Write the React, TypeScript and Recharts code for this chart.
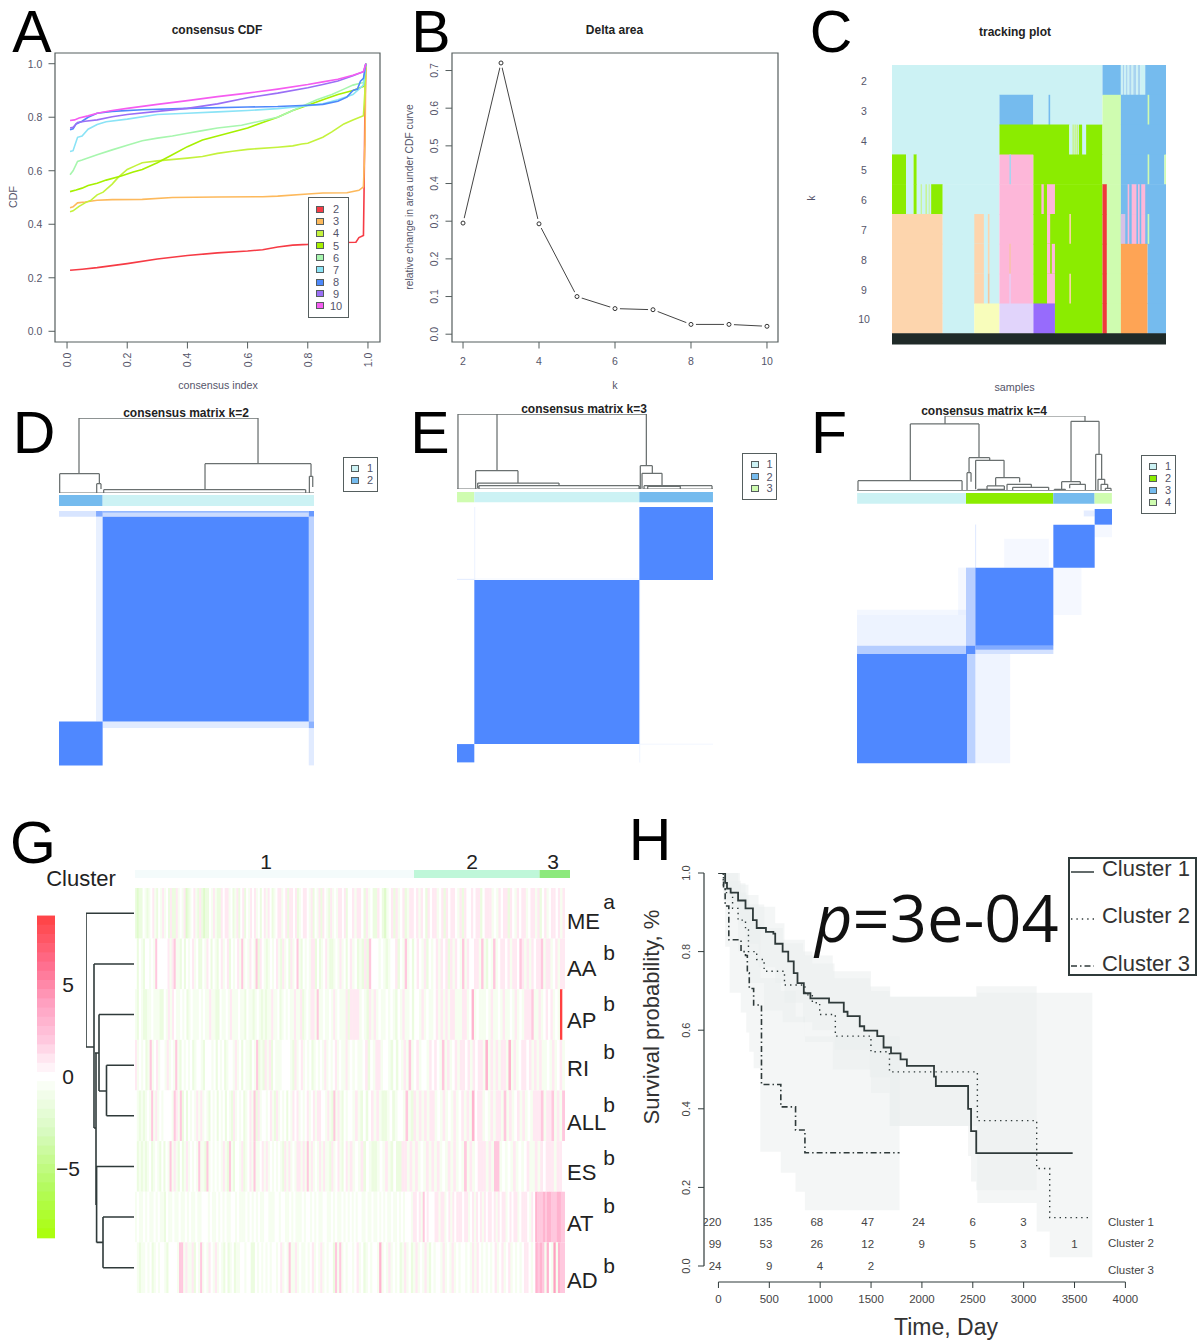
import React from "react";
import { ComposedChart, Line, Area, Scatter, XAxis, YAxis, ReferenceArea, ReferenceLine } from "recharts";

const FONT = "'Liberation Sans', Arial, sans-serif";
const TXT = "#55556a";
const DARK = "#2f3a3a";

// ---------- A: consensus CDF ----------
const cdf2 = [[.01,.228],[.05,.232],[.1,.238],[.2,.253],[.3,.27],[.4,.283],[.5,.293],[.6,.3],[.65,.305],[.7,.315],[.75,.322],[.8,.325],[.85,.33],[.9,.332],[.96,.333],[.97,.35],[.985,.358],[.987,.52],[.99,.84],[.993,1]];
const cdf3 = [[.01,.462],[.02,.465],[.035,.48],[.06,.483],[.1,.49],[.15,.492],[.25,.493],[.35,.5],[.5,.502],[.65,.503],[.7,.505],[.8,.513],[.85,.517],[.93,.518],[.97,.527],[.985,.54],[.99,.7],[.993,1]];
const cdf4 = [[.01,.447],[.02,.45],[.04,.467],[.06,.48],[.08,.49],[.1,.51],[.12,.52],[.15,.55],[.17,.575],[.2,.605],[.23,.62],[.25,.63],[.3,.637],[.4,.647],[.45,.653],[.5,.665],[.55,.673],[.6,.68],[.7,.688],[.75,.693],[.78,.7],[.8,.703],[.85,.725],[.88,.745],[.9,.76],[.92,.775],[.95,.79],[.985,.806],[.99,.9],[.993,1]];
const cdf5 = [[.01,.522],[.03,.528],[.05,.535],[.07,.545],[.1,.553],[.13,.565],[.18,.58],[.22,.595],[.25,.605],[.3,.63],[.35,.66],[.4,.69],[.45,.715],[.5,.73],[.55,.745],[.6,.76],[.65,.78],[.7,.8],[.75,.825],[.8,.845],[.85,.865],[.9,.885],[.95,.9],[.985,.915],[.993,1]];
const cdf6 = [[.01,.585],[.02,.6],[.035,.635],[.05,.64],[.1,.66],[.15,.678],[.2,.695],[.25,.712],[.3,.722],[.35,.73],[.4,.74],[.45,.75],[.5,.76],[.58,.77],[.62,.78],[.7,.8],[.75,.825],[.8,.85],[.83,.865],[.88,.885],[.92,.905],[.95,.92],[.985,.93],[.993,1]];
const cdf7 = [[.01,.672],[.02,.675],[.035,.725],[.05,.73],[.07,.755],[.1,.773],[.13,.783],[.2,.793],[.3,.81],[.4,.815],[.5,.82],[.6,.825],[.7,.832],[.8,.843],[.85,.85],[.9,.865],[.95,.885],[.985,.92],[.993,1]];
const cdf8 = [[.01,.753],[.02,.757],[.03,.775],[.05,.785],[.07,.8],[.1,.815],[.15,.822],[.25,.828],[.4,.833],[.6,.838],[.7,.84],[.8,.845],[.85,.848],[.9,.86],[.93,.875],[.95,.9],[.965,.905],[.975,.935],[.985,.945],[.993,1]];
const cdf9 = [[.01,.76],[.02,.762],[.035,.78],[.06,.785],[.1,.79],[.15,.802],[.2,.81],[.3,.822],[.4,.833],[.5,.85],[.6,.873],[.7,.89],[.8,.91],[.85,.922],[.9,.935],[.95,.955],[.985,.97],[.993,1]];
const cdf10 = [[.01,.788],[.025,.79],[.04,.797],[.07,.805],[.1,.815],[.15,.825],[.2,.833],[.3,.848],[.4,.862],[.5,.877],[.6,.89],[.7,.905],[.8,.922],[.85,.932],[.9,.942],[.95,.957],[.985,.97],[.993,1]];
const cdfAll = [cdf2, cdf3, cdf4, cdf5, cdf6, cdf7, cdf8, cdf9, cdf10];
const kLabels = ["2","3","4","5","6","7","8","9","10"];
const kColors = ["#f63b45","#fdb95c","#c4f23c","#a6f000","#a7f6ae","#8ae3f6","#4e88fb","#9a6ff6","#f55cf0"];
const cdfTicks = [0,.2,.4,.6,.8,1];

// ---------- B: delta area ----------
const deltaK = [2,3,4,5,6,7,8,9,10];
const deltaV = [.295,.72,.293,.1,.068,.065,.026,.026,.021];
const deltaYTicks = [0,.1,.2,.3,.4,.5,.6,.7];
const deltaXTicks = [2,4,6,8,10];

// ---------- C: tracking plot ----------
const trackColors: Record<string,string> = { c:"#ccf2f4", b:"#75bbee", l:"#cffcb0", g:"#8bec00", p:"#fdb7d9", r:"#ef3a3a", e:"#fdd5ad", v:"#e1d4fb", u:"#976bfc", y:"#f8fdbb", o:"#fea455", k:"#1f2a28", m:"#f7c59b", a:"#d6c0e6", s:"#a8d4f0", h:"#c6f57a" };
const trackK = [2,3,4,5,6,7,8,9,10];
const trackK2: any[] = [[0,263.5,"c"],[263.5,286.5,"b"],[286.5,289,"c"],[289,291,"s"],[291,293,"c"],[293,295,"s"],[295,297,"c"],[297,300,"s"],[300,302,"c"],[302,306,"s"],[306,308,"c"],[308,311,"s"],[311,317,"c"],[317,343,"b"]];
const trackK3: any[] = [[0,134.5,"c"],[134.5,177,"b"],[177,263.5,"c"],[196,198,"b"],[263.5,286.5,"l"],[286.5,343,"b"],[320,322,"l"]];
const trackK4: any[] = [[0,134.5,"c"],[134.5,222,"g"],[222,243,"c"],[226,227.5,"h"],[228.5,230,"h"],[231,233,"h"],[234,238,"g"],[243,263.5,"g"],[263.5,286.5,"l"],[286.5,343,"b"]];
const trackK5: any[] = [[0,17.5,"g"],[17.5,27,"c"],[27,31,"g"],[31,134.5,"c"],[134.5,177,"p"],[147,149,"s"],[177,263.5,"g"],[263.5,286.5,"l"],[286.5,341,"b"],[320,322,"l"],[341,343,"l"]];
const trackK6: any[] = [[0,17.5,"g"],[17.5,27,"c"],[27,31,"g"],[31,49,"c"],[36,37.2,"h"],[42,43.5,"h"],[46,47,"h"],[49,63.5,"g"],[63.5,134.5,"c"],[134.5,177,"p"],[177,263.5,"g"],[187,190,"p"],[194,204,"p"],[263.5,269,"r"],[269,286.5,"l"],[286.5,343,"b"],[295,297,"p"],[300,306,"p"],[308,310,"p"],[312,317,"p"]];
const trackK7: any[] = [[0,63.5,"e"],[63.5,134.5,"c"],[103,115,"e"],[120,122,"e"],[134.5,177,"p"],[177,263.5,"g"],[194,198,"p"],[222,224,"e"],[263.5,269,"r"],[269,286.5,"l"],[286.5,343,"b"],[286.5,292,"a"],[295,297,"p"],[300,306,"p"],[308,310,"p"],[312,317,"p"],[320,322,"l"]];
const trackK8: any[] = [[0,63.5,"e"],[63.5,134.5,"c"],[103,115,"e"],[120,122,"e"],[134.5,177,"p"],[147,148.5,"m"],[177,263.5,"g"],[194,198,"p"],[200,204,"p"],[263.5,269,"r"],[269,286.5,"l"],[286.5,320,"o"],[320,343,"b"]];
const trackK9: any[] = [[0,63.5,"e"],[63.5,134.5,"c"],[103,115,"e"],[120,122,"m"],[134.5,177,"p"],[147,148.5,"v"],[177,263.5,"g"],[194,204,"p"],[222,224,"e"],[263.5,269,"r"],[269,286.5,"l"],[286.5,320,"o"],[320,343,"b"]];
const trackK10: any[] = [[0,63.5,"e"],[63.5,103,"c"],[103,134.5,"y"],[134.5,177,"v"],[177,204,"u"],[204,263.5,"g"],[263.5,269,"r"],[269,286.5,"l"],[286.5,320,"o"],[320,343,"b"]];
const trackRows = [trackK2, trackK3, trackK4, trackK5, trackK6, trackK7, trackK8, trackK9, trackK10];

// ---------- D, E, F: consensus matrices (sample index units) ----------
const MATRIX = "#4f88ff";
const dTree = [[26.9,267.7,1,.258,.391],[.9,54.3,.258,0,.124],[50.7,56.5,.124,0,.053],[196.4,339,.391,.044,.222],[60.1,331.8,.044,0,0],[336.8,341.3,.222,0,.08]];
const eTree = [[1.3,253.7,1,0,.311],[53.6,53.6,1,.244,.244],[25,81.7,.244,0,.08],[27.7,136.7,.08,.013,.044],[29.5,243.9,.044,0,0],[245.6,261.7,.311,0,.209],[247.9,274.7,.209,.013,.044],[250.6,341.7,.044,0,0],[255.5,299.2,.036,0,0]];
const fTree = [[118.4,306.7,1,.893,.929],[71.7,164.1,.893,.134,.442],[1.3,141.3,.134,0,0],[150.7,178.5,.442,.241,.406],[148,153.4,.241,0,.121],[159.6,197.8,.406,.018,.174],[162.3,197.3,.018,0,0],[174.9,198.2,.063,0,0],[186.5,218.8,.174,.063,.112],[201.8,234.5,.085,0,.045],[209.4,257.8,.045,0,0],[287.9,325.6,.929,.121,.487],[275.3,300.4,.121,0,.085],[286.1,307.2,.085,.031,0],[265.5,280.3,.018,0,0],[321.1,329.1,.487,0,.152],[324.2,333.2,.152,0,.085],[328.3,337.2,.085,0,.031],[334.1,341.7,.031,0,0]];
const dAnno: any[] = [[0,58.7,"b"],[58.7,343,"c"]];
const eAnno: any[] = [[0,23.2,"l"],[23.2,244.3,"c"],[244.3,343,"b"]];
const fAnno: any[] = [[0,146.6,"c"],[146.6,264.1,"g"],[264.1,319.7,"b"],[319.7,343,"l"]];
const dBlocks = [[58.7,336,7.6,283.4,1],[0,58.7,283.4,342.6,1],[49.8,58.7,7.6,283.4,.13],[0,49.8,0,7.6,.22],[49.8,58.7,0,7.6,.7],[58.7,336,0,2.5,.6],[58.7,336,2.5,7.6,.3],[336,343,0,7.6,.85],[336,343,7.6,283.4,.38],[58.7,336,283.4,292.4,.17],[336,343,283.4,292.4,.65],[336,343,292.4,342.6,.17]];
const eBlocks = [[244.3,343,0,98,1],[23.2,244.3,98,318.4,1],[0,23.2,318.4,343,1],[23.2,24.4,0,98,.12],[24.4,244.3,96,97.5,.07],[0,23.2,96.5,98,.15],[244.3,245.5,98,343,.1],[245.5,343,318,319,.1]];
const fBlocks = [[319.7,343,0,21.1,1],[264.1,319.7,21.1,79.1,1],[159.2,264.1,79.1,184.3,1],[146.6,159.2,79.1,184.3,.4],[146.6,159.2,184.3,195.6,.95],[0,148,195.6,343,1],[148,159.2,195.6,343,.38],[159.2,206,195.6,343,.09],[0,146.6,184.3,195.6,.42],[159.2,264.1,184.3,190,.7],[159.2,264.1,190,195.6,.25],[0,146.6,143,184.3,.1],[136,146.6,79.1,143,.06],[0,146.6,136,143,.07],[264.1,302,79.1,143,.06],[198,258,40,79.1,.06],[159.2,160.2,21,79.1,.25],[305,319.7,2,10,.15],[320,343,21.1,38,.06]];

// ---------- G: heatmap ----------
const heatLabels = ["ME","AA","AP","RI","ALL","ES","AT","AD"];
const heatSig = ["a","b","b","b","b","b","b","b"];
const levelValue: Record<string,number> = { g:-2.5, h:-1.5, i:-.7, "0":0, "1":.9, "2":2, "3":3, "4":4, "9":8.8 };
const heatLeft = [
"hghh0ihi01ih0i1i0h1hh1i0i1ghi01ih1hghh0i1ihh1011i0hi1h01h0i101i0h01i10hi011i01h1101hi0110i1h0i1h10ih1i0i1101h0",
"0h0ih00i0i2000001i12iih0h0i01i0hh0i10h0ih01i01h0i01i2i0i10i2h10ihi0i01ih1i0h1i02ih0i0i11h0hi01ihhi0i1i0h0",
"ih0ihhii0iiihh0i1i10ii0i0hi0iii0i0ii1iihh0ii0i1iii0iih0iihi0ihihii1ii0hi0i0ii1ii1hi0i11i2ii0ii0i1i0iii1h",
"1i0i0hi2i01i00i1i0i2ih0i0i0hi00ih000i0h0i0hi00i1i0h0iih0i2hih1i1h0iii0000ih1i01i0i0hi0i0i1i0i01i0ii1i",
"0ihihi0i2i1i0i0000i21i2h0h0i0i1i1i0ih0i0h0i0h0ih1i0i0hi01i2h1i00i01ih1i0i0h0i101i0i01i01i1100i1ih2i1ih0i0",
"0hihihi0hi0ih0h0i2i1ih0hi1i0i0i2iih2i0i0i0i1ih2ih00i1hi01i2ii01i1i0i0i0ih1i1i0i11i1i2i1i0i1i1iih1i01ih01i",
"i0ii0i0ii0i0iih0ii0ii0ii0i0ii0ii000i0ii0i0i0ii00i0iii0i0i0i0ii00iii00i00ii0i0iii0i00i0i0ii00ii0i0ii0i0i",
"0ihii0i0hi0i00ih0000i22i1ii1h0i2i0i10i1i0ih0hi0hii00i00hh0i0i0i0i00i01i0i2ii1i0ii0i01i0i1i0i00h2i2i0i0",
];
const heatRight = [
"01i110h1i0hh10hgi01h1i01hi1101i10h1011i01h10110i1h1001011h0111i0i1011h10i1011i011i1h01i01101i1",
"1i0hih1h2000i0ihi001h0i2i0h010i1h0i01i101h1i10i2i10011i2ih0i2i01101i11021i1i10112i11i01i11",
"1111i0ih1i1i0ii0i0ih0i1ii0h00i1i0ii01i1i1i11iii11i03i0iii0i1ii0i1ii0i1i0i1112ii1i0101i0i90",
"0i0ii01h0i11i00ih0h0i1i2i01i00i1010i2i1i01i1101i1011i3i1i1i11i3i1i01101i1i1ii0i1i01i",
"0i1ih0h01i1ihhi0hi00i2ih1i1i1i11i0i1i0i1i01i1i3011i0i1i11i2i1i01i1i0i1112i112i1i2",
"1i0i1h0ihhi0i1ih0hh11i1i1i0i1i1i1i0i1i1i0i2i1i0111i1i22i0i0i1i0i01ii1i10111i110",
"0i0i00ii0ii0ii0i0i0ii0ii0i0i000i1101i20100011i11i01i10111011i01i101i101101i1011i01011i01110i10322232332223322",
"0i01i0hi0i00i3i0i1i0i0hi1i0hi1i0i1ih0i00i1i0i1i0i00i0i1i10i0i0i01i01i01i0i0i0110i03232i30i4i322",
];
const colorStops: [number,number[]][] = [[-9,[169,255,0]],[-6,[180,250,96]],[-3,[216,250,192]],[-1,[242,253,234]],[0,[255,255,255]],[1,[255,230,240]],[2,[255,200,222]],[4,[255,160,192]],[6,[255,112,144]],[8.8,[255,64,64]]];
const colorBarLevels = [8.5,8,7.5,7,6.5,6,5.5,5,4.5,4,3.5,3,2.5,2,1.5,1,.5,0,-.5,-1,-1.5,-2,-2.5,-3,-3.5,-4,-4.5,-5,-5.5,-6,-6.5,-7,-7.5,-8,-8.5];
const clusterSizes = [220,99,24];
const clusterFill = ["#f4fbfb","#bff7d9","#8ce97c"];
const heatTreeSegs = [[0,.5,48,.5],[48,.5,48,3.14],[48,3.14,40,3.14],[0,1.5,40,1.5],[40,1.5,40,4.74],[40,4.74,38,4.74],[39,3.26,35,3.26],[35,2.5,35,4.01],[0,2.5,35,2.5],[35,4.01,27.5,4.01],[27.5,3.5,27.5,4.5],[0,3.5,27.5,3.5],[0,4.5,27.5,4.5],[38,3.26,38,6.26],[38,6.26,37.4,6.26],[37.4,5.5,37.4,7],[0,5.5,37.4,5.5],[37.4,7,31,7],[31,6.5,31,7.5],[0,6.5,31,6.5],[0,7.5,31,7.5]];

// ---------- H: survival ----------
const km1 = [[0,1],[66,.975],[84,.96],[120,.95],[193,.93],[266,.91],[339,.88],[376,.86],[430,.86],[467,.85],[540,.846],[558,.82],[631,.80],[686,.775],[740,.745],[777,.72],[839,.694],[904,.681],[1087,.67],[1232,.647],[1269,.636],[1389,.61],[1433,.599],[1561,.585],[1623,.556],[1696,.541],[1790,.526],[1852,.509],[2119,.482],[2137,.458],[2454,.40],[2483,.343],[2534,.287],[3482,.287]];
const km2 = [[0,1],[47,.97],[66,.95],[139,.91],[193,.88],[266,.855],[295,.80],[376,.78],[449,.75],[649,.715],[850,.69],[923,.67],[995,.64],[1149,.585],[1499,.545],[1681,.494],[2545,.37],[3128,.248],[3256,.123],[3665,.123]];
const km3 = [[0,1],[50,.96],[66,.916],[102,.83],[222,.80],[266,.79],[284,.746],[303,.706],[346,.664],[423,.462],[613,.405],[758,.346],[850,.288],[1780,.288]];
const band1 = [[0,1,1],[47,.96,1],[120,.91,1],[211,.87,.974],[266,.82,.944],[394,.76,.914],[558,.72,.872],[649,.67,.821],[831,.62,.80],[923,.60,.77],[1141,.55,.732],[1488,.48,.711],[1688,.356,.685],[2454,.28,.685],[2483,.215,.685],[2534,.193,.712],[3128,.193,.712]];
const band2 = [[0,1,1],[47,.93,1],[193,.80,.97],[295,.72,.92],[449,.65,.86],[631,.62,.83],[850,.57,.79],[1123,.50,.75],[1499,.44,.70],[1681,.356,.685],[2545,.16,.695],[3128,.0875,.695],[3256,.022,.695],[3675,.022,.695]];
const band3 = [[0,1,1],[66,.8125,1],[110,.695,.98],[219,.645,.95],[274,.594,.93],[303,.545,.90],[346,.503,.87],[412,.291,.732],[613,.237,.70],[758,.189,.634],[850,.142,.584],[1780,.142,.584]];
const timeTicks = [0,500,1000,1500,2000,2500,3000,3500,4000];
const survTicks = [0,.2,.4,.6,.8,1];
const riskNames = ["Cluster 1","Cluster 2","Cluster 3"];
const risk1 = [220,135,68,47,24,6,3];
const risk2 = [99,53,26,12,9,5,3,1];
const risk3 = [24,9,4,2];
const riskRowLevel = [.112,.056,0];

// ---------- helpers ----------
const toRows = (pairs: number[][]) => pairs.map(([x, y]) => ({ x, y }));
const breakRows = (segs: number[][]) => segs.flatMap(([a, b, c, d]) => [{ x: a, y: b }, { x: c, y: d }, { x: c, y: null as any }]);
const treeSegs = (tree: number[][]) => tree.flatMap(([l, r, top, hl, hr]) => [[l, hl, l, top], [l, top, r, top], [r, top, r, hr]]);

const Txt = ({ x, y, s, size = 10, color = TXT, bold = false, rot = 0, font = FONT, italic = false, lh = 1 }: any) => (
  <div style={{ position: "absolute", left: x, top: y, transform: `translate(-50%,-50%) rotate(${rot}deg)`, whiteSpace: "nowrap", fontSize: size, color, fontWeight: bold ? 700 : 400, fontFamily: font, fontStyle: italic ? "italic" : "normal", lineHeight: lh }}>{s}</div>
);
const Letter = ({ x, y, s }: any) => <Txt x={x} y={y} s={s} size={59} color="#000" lh={0.74} />;

const Frame = ({ px, py, pw, ph, pad = 40, adjL = 0, adjB = 0, adjR = 0, children }: any) => (
  <div style={{ position: "absolute", left: px - pad, top: py - pad }}>
    <ComposedChart width={pw + 2 * pad} height={ph + 2 * pad} margin={{ top: pad, right: pad - adjR, bottom: pad - adjB, left: pad - adjL }}>
      {children}
    </ComposedChart>
  </div>
);

const tick = (dir: "x" | "y", len: number, dist: number, rot: number, size = 10, color = TXT, dec = 0, stroke = "#555e5e", shift = 0) => (p: any) => {
  const { x, y, payload } = p;
  const tx = dir === "x" ? x : x - dist;
  const ty = (dir === "x" ? y + dist : y) + shift;
  return (
    <g>
      {len > 0 && (dir === "x" ? <line x1={x} y1={y} x2={x} y2={y + len} stroke={stroke} strokeWidth={1} /> : <line x1={x - len} y1={y} x2={x} y2={y} stroke={stroke} strokeWidth={1} />)}
      <text x={tx} y={ty} fontSize={size} fontFamily={FONT} fill={color} textAnchor="middle" dominantBaseline="central" transform={rot ? `rotate(${rot} ${tx} ${ty})` : undefined}>
        {Number(payload.value).toFixed(dec)}
      </text>
    </g>
  );
};

const HX = ({ d, rev = false }: any) => <XAxis type="number" dataKey="x" domain={d} hide allowDataOverflow reversed={rev} />;
const HY = ({ d, rev = false }: any) => <YAxis type="number" dataKey="y" domain={d} hide allowDataOverflow reversed={rev} />;

const Legend = ({ left, top, w, h, swX, ys, labelX, items }: any) => (
  <>
    <div style={{ position: "absolute", left, top, width: w, height: h, border: "1px solid #555e5e", background: "#fff", boxSizing: "border-box" }} />
    {items.map((it: any, i: number) => (
      <React.Fragment key={i}>
        <div style={{ position: "absolute", left: swX, top: ys[i] - 3.5, width: 8, height: 7, background: it.color, border: "1px solid #555e5e", boxSizing: "border-box" }} />
        <Txt x={labelX} y={ys[i]} s={it.label} size={11} />
      </React.Fragment>
    ))}
  </>
);

const BoxStroke = "#555e5e";

const MatrixPanel = ({ x, w, treeTop, treeBase, annoTop, annoBottom, matTop, matBottom, tree, anno, blocks }: any) => (
  <>
    <Frame px={x} py={treeTop} pw={w} ph={treeBase - treeTop} pad={4}>
      <XAxis type="number" dataKey="x" domain={[0, 343]} hide allowDataOverflow />
      <YAxis type="number" dataKey="y" domain={[0, 1]} hide allowDataOverflow />
      <Line data={breakRows([...treeSegs(tree), [0, 0, 343, 0]])} dataKey="y" stroke="#6a7070" strokeWidth={1.25} dot={false} isAnimationActive={false} />
    </Frame>
    <Frame px={x} py={annoTop} pw={w} ph={annoBottom - annoTop} pad={1}>
      <HX d={[0, 343]} />
      <HY d={[0, 1]} />
      {anno.map((a: any, i: number) => <ReferenceArea key={i} x1={a[0]} x2={a[1]} y1={0} y2={1} fill={trackColors[a[2]]} fillOpacity={1} stroke="none" />)}
    </Frame>
    <Frame px={x} py={matTop} pw={w} ph={matBottom - matTop} pad={1}>
      <HX d={[0, 343]} />
      <HY d={[0, 343]} rev />
      {blocks.map((b: number[], i: number) => <ReferenceArea key={i} x1={b[0]} x2={b[1]} y1={b[2]} y2={b[3]} fill={MATRIX} fillOpacity={b[4]} stroke="none" />)}
    </Frame>
  </>
);

const heatColor = (v: number) => {
  for (let i = 0; i < colorStops.length - 1; i++) {
    const [a, ca] = colorStops[i];
    const [b, cb] = colorStops[i + 1];
    if (v <= b) {
      const t = Math.max(0, (v - a) / (b - a));
      return `rgb(${ca.map((c, k) => Math.round(c + (cb[k] - c) * t)).join(",")})`;
    }
  }
  return "rgb(255,64,64)";
};

const decodeHalf = (rows: string[], offset: number) => rows.flatMap((r, ri) => r.split("").map((ch, i) => ({ x: offset + (i + .5) / r.length, y: ri + .5, v: levelValue[ch] ?? 0, w: 1 / r.length })));
const heatCells = [...decodeHalf(heatLeft, 0), ...decodeHalf(heatRight, 1)];
const HEAT_W = 430, HEAT_H = 405;
const heatShape = (p: any) => {
  const w = (p.payload.w * HEAT_W) / 2 + .5;
  const h = HEAT_H / 8;
  return <rect x={p.cx - w / 2} y={p.cy - h / 2} width={w} height={h} fill={heatColor(p.payload.v)} />;
};

const riskData = [risk1, risk2, risk3].flatMap((row, r) => row.map((n, i) => ({ x: timeTicks[i], y: riskRowLevel[r], n })));
const riskShape = (p: any) => <text x={p.cx + 3} y={p.cy} fontSize={11.5} fontFamily={FONT} fill="#444" textAnchor="end" dominantBaseline="central">{p.payload.n}</text>;
const bandRows = (b: number[][]) => b.map(([x, lo, hi]) => ({ x, range: [lo, hi] }));
const bDot = (p: any) => (
  <g key={p.index}>
    <circle cx={p.cx} cy={p.cy} r={5} fill="#fff" />
    <circle cx={p.cx} cy={p.cy} r={2} fill="#fff" stroke="#333" strokeWidth={1} />
  </g>
);

export default function App() {
  return (
    <div style={{ position: "absolute", left: 0, top: 0, width: 1200, height: 1343, background: "#fff", overflow: "hidden" }}>
      {/* A */}
      <Frame px={55} py={53} pw={325} ph={289} adjL={1} adjB={1}>
        <XAxis type="number" dataKey="x" domain={[-.04, 1.04]} ticks={cdfTicks} height={1} tickSize={0} tickMargin={0} axisLine={false} tickLine={false} interval={0} allowDataOverflow tick={tick("x", 6.5, 18, -90, 10.5, TXT, 1)} />
        <YAxis type="number" dataKey="y" domain={[-.04, 1.04]} ticks={cdfTicks} width={1} tickSize={0} tickMargin={0} axisLine={false} tickLine={false} interval={0} allowDataOverflow tick={tick("y", 6.5, 20, 0, 10.5, TXT, 1)} />
        <ReferenceArea x1={-.04} x2={1.04} y1={-.04} y2={1.04} fill="none" stroke={BoxStroke} strokeWidth={1.2} />
        {cdfAll.map((c, i) => <Line key={i} data={toRows(c)} dataKey="y" stroke={kColors[i]} strokeWidth={1.6} dot={false} isAnimationActive={false} />)}
      </Frame>
      <Legend left={307.5} top={197} w={41.5} h={120.5} swX={316} ys={[209,221,233,245.5,257.5,269.5,282,293.5,305.5]} labelX={336} items={kLabels.map((l, i) => ({ label: l, color: kColors[i] }))} />
      <Txt x={217} y={29.5} s="consensus CDF" size={12} bold color="#222" />
      <Txt x={218} y={385} s="consensus index" size={10.7} />
      <Txt x={13} y={197} s="CDF" size={10.7} rot={-90} />
      <Letter x={32} y={33} s="A" />

      {/* B */}
      <Frame px={452} py={53} pw={326} ph={289} adjL={1} adjB={1}>
        <XAxis type="number" dataKey="x" domain={[1.71, 10.29]} ticks={deltaXTicks} height={1} tickSize={0} tickMargin={0} axisLine={false} tickLine={false} interval={0} allowDataOverflow tick={tick("x", 6.5, 19, 0, 10.5)} />
        <YAxis type="number" dataKey="y" domain={[-.0207, .7465]} ticks={deltaYTicks} width={1} tickSize={0} tickMargin={0} axisLine={false} tickLine={false} interval={0} allowDataOverflow tick={tick("y", 6.5, 18, -90, 10.5, TXT, 1)} />
        <ReferenceArea x1={1.71} x2={10.29} y1={-.0207} y2={.7465} fill="none" stroke={BoxStroke} strokeWidth={1.2} />
        <Line data={deltaK.map((k, i) => ({ x: k, y: deltaV[i] }))} dataKey="y" stroke="#444" strokeWidth={1} dot={bDot} isAnimationActive={false} />
      </Frame>
      <Txt x={614.5} y={29.5} s="Delta area" size={12} bold color="#222" />
      <Txt x={615} y={385} s="k" size={10.7} />
      <Txt x={410} y={197} s="relative change in area under CDF curve" size={10.3} rot={-90} />
      <Letter x={431} y={33} s="B" />

      {/* C */}
      <Frame px={892} py={64.7} pw={274} ph={279.6} adjL={1}>
        <XAxis type="number" dataKey="x" domain={[0, 343]} hide allowDataOverflow />
        <YAxis type="number" dataKey="y" domain={[1.5, 10.88]} reversed ticks={trackK} width={1} tickSize={0} tickMargin={0} axisLine={false} tickLine={false} interval={0} allowDataOverflow tick={tick("y", 0, 28, 0, 10.5, TXT, 0, "#555e5e", 1.5)} />
        {trackRows.flatMap((row, ri) => row.map((s: any, i: number) => (
          <ReferenceArea key={`${ri}-${i}`} x1={s[0]} x2={s[1]} y1={trackK[ri] - .5} y2={trackK[ri] + .52} fill={trackColors[s[2]]} fillOpacity={1} stroke="none" />
        )))}
        <ReferenceArea x1={0} x2={343} y1={10.5} y2={10.88} fill={trackColors.k} fillOpacity={1} stroke="none" />
      </Frame>
      <Txt x={1015} y={31.5} s="tracking plot" size={12} bold color="#222" />
      <Txt x={1014.5} y={387} s="samples" size={10.8} />
      <Txt x={811} y={198} s="k" size={10.7} rot={-90} />
      <Letter x={831} y={33} s="C" />

      {/* D */}
      <MatrixPanel x={58.7} w={255} treeTop={418.3} treeBase={493.3} annoTop={495} annoBottom={506} matTop={511} matBottom={765.7} tree={dTree} anno={dAnno} blocks={dBlocks} />
      <Txt x={186} y={412.5} s="consensus matrix k=2" size={12} bold color="#222" />
      <Legend left={343.3} top={456.7} w={35} h={35.6} swX={351} ys={[468,480]} labelX={370} items={[{ label: "1", color: trackColors.c }, { label: "2", color: trackColors.b }]} />
      <Letter x={34} y={434} s="D" />

      {/* E */}
      <MatrixPanel x={456.7} w={256} treeTop={414.3} treeBase={489.3} annoTop={492} annoBottom={502.3} matTop={507.3} matBottom={762.7} tree={eTree} anno={eAnno} blocks={eBlocks} />
      <Txt x={584} y={408.7} s="consensus matrix k=3" size={12} bold color="#222" />
      <Legend left={742.3} top={452.7} w={35} h={47.3} swX={750.7} ys={[464.3,476.7,488.3]} labelX={769.5} items={[{ label: "1", color: trackColors.c }, { label: "2", color: trackColors.b }, { label: "3", color: trackColors.l }]} />
      <Letter x={430} y={434} s="E" />

      {/* F */}
      <MatrixPanel x={856.7} w={255} treeTop={416} treeBase={490.7} annoTop={493.3} annoBottom={504} matTop={509} matBottom={763.3} tree={fTree} anno={fAnno} blocks={fBlocks} />
      <Txt x={984} y={410.7} s="consensus matrix k=4" size={12} bold color="#222" />
      <Legend left={1140.7} top={454.7} w={35.3} h={59.6} swX={1149} ys={[466.3,478.3,490,502.3]} labelX={1168} items={[{ label: "1", color: trackColors.c }, { label: "2", color: trackColors.g }, { label: "3", color: trackColors.b }, { label: "4", color: trackColors.l }]} />
      <Letter x={829} y={434} s="F" />

      {/* G */}
      <Frame px={135} py={870} pw={435} ph={8} pad={1}>
        <HX d={[0, 343]} />
        <HY d={[0, 1]} />
        {clusterSizes.map((n, i) => {
          const start = clusterSizes.slice(0, i).reduce((a, b) => a + b, 0);
          return <ReferenceArea key={i} x1={start} x2={start + n} y1={0} y2={1} fill={clusterFill[i]} fillOpacity={1} stroke="none" />;
        })}
      </Frame>
      <Frame px={135} py={888} pw={HEAT_W} ph={HEAT_H} pad={1}>
        <XAxis type="number" dataKey="x" domain={[0, 2]} hide allowDataOverflow />
        <YAxis type="number" dataKey="y" domain={[0, 8]} reversed hide allowDataOverflow />
        <Scatter data={heatCells} shape={heatShape} isAnimationActive={false} />
      </Frame>
      <Frame px={86} py={888} pw={48} ph={HEAT_H} pad={2}>
        <XAxis type="number" dataKey="x" domain={[0, 48]} reversed hide allowDataOverflow />
        <YAxis type="number" dataKey="y" domain={[0, 8]} reversed hide allowDataOverflow />
        <Line data={breakRows(heatTreeSegs)} dataKey="y" stroke={DARK} strokeWidth={1.6} dot={false} isAnimationActive={false} />
      </Frame>
      <Frame px={37} py={915} pw={18} ph={327} adjR={1}>
        <XAxis type="number" dataKey="x" domain={[0, 1]} hide allowDataOverflow />
        <YAxis type="number" dataKey="y" orientation="right" domain={[-8.97, 8.8]} ticks={[-5, 0, 5]} width={1} tickSize={0} tickMargin={0} axisLine={false} tickLine={false} interval={0} allowDataOverflow tick={(p: any) => (
          <text x={p.x + 13} y={p.y} fontSize={21} fontFamily={FONT} fill="#222" textAnchor="middle" dominantBaseline="central">{p.payload.value < 0 ? "\u22125" : p.payload.value}</text>
        )} />
        {colorBarLevels.map((l, i) => <ReferenceArea key={i} x1={0} x2={1} y1={Math.max(l - .27, -8.97)} y2={Math.min(l + .27, 8.8)} fill={heatColor(l)} fillOpacity={1} stroke="none" />)}
      </Frame>
      <Txt x={266} y={861} s="1" size={21} color="#222" />
      <Txt x={472} y={861} s="2" size={21} color="#222" />
      <Txt x={553} y={861} s="3" size={21} color="#222" />
      <Txt x={81} y={879} s="Cluster" size={22} color="#222" />
      {heatLabels.map((l, i) => {
        const ys = [921.7, 969, 1020.7, 1069, 1122.7, 1172.7, 1224, 1281];
        return <div key={l} style={{ position: "absolute", left: 567, top: ys[i], transform: "translateY(-50%)", fontSize: 22, fontFamily: FONT, color: "#222", lineHeight: 1 }}>{l}</div>;
      })}
      {heatSig.map((l, i) => {
        const ys = [901, 952, 1003, 1051, 1104, 1157, 1205, 1265];
        return <Txt key={i} x={609} y={ys[i]} s={l} size={21} color="#222" />;
      })}
      <Letter x={33} y={844} s="G" />

      {/* H */}
      <Frame px={703.6} py={873} pw={421.4} ph={409} pad={45} adjL={1} adjB={1}>
        <XAxis type="number" dataKey="x" domain={[-142, 4000]} ticks={timeTicks} height={1} tickSize={0} tickMargin={0} axisLine={false} tickLine={false} interval={0} allowDataOverflow tick={tick("x", 6, 17, 0, 11.5, "#444", 0, DARK)} />
        <YAxis type="number" dataKey="y" domain={[-.0407, 1]} ticks={survTicks} width={1} tickSize={0} tickMargin={0} axisLine={false} tickLine={false} interval={0} allowDataOverflow tick={tick("y", 6, 18, -90, 11, "#444", 1, DARK)} />
        <Area data={bandRows(band1)} dataKey="range" type="stepAfter" fill="#e9eeee" fillOpacity={.5} stroke="none" isAnimationActive={false} />
        <Area data={bandRows(band2)} dataKey="range" type="stepAfter" fill="#e9eeee" fillOpacity={.5} stroke="none" isAnimationActive={false} />
        <Area data={bandRows(band3)} dataKey="range" type="stepAfter" fill="#e9eeee" fillOpacity={.5} stroke="none" isAnimationActive={false} />
        <ReferenceLine segment={[{ x: -142, y: 0 }, { x: -142, y: 1 }]} stroke={DARK} strokeWidth={1.2} ifOverflow="visible" />
        <ReferenceLine segment={[{ x: 0, y: -.0407 }, { x: 4000, y: -.0407 }]} stroke={DARK} strokeWidth={1.2} ifOverflow="visible" />
        <Line data={toRows(km1)} dataKey="y" type="stepAfter" stroke={DARK} strokeWidth={1.8} dot={false} isAnimationActive={false} />
        <Line data={toRows(km2)} dataKey="y" type="stepAfter" stroke={DARK} strokeWidth={1.4} strokeDasharray="1.4 4" dot={false} isAnimationActive={false} />
        <Line data={toRows(km3)} dataKey="y" type="stepAfter" stroke={DARK} strokeWidth={1.6} strokeDasharray="6 3 1.5 3" dot={false} isAnimationActive={false} />
        <Scatter data={riskData} shape={riskShape} isAnimationActive={false} />
      </Frame>
      {riskNames.map((n, i) => <Txt key={n} x={1131} y={[1222.5, 1244, 1270.5][i]} s={n} size={11.5} color="#444" />)}
      <Txt x={652} y={1017} s="Survival probability, %" size={22} rot={-90} color="#333" />
      <Txt x={946} y={1327} s="Time, Day" size={23} color="#333" />
      <div style={{ position: "absolute", left: 815, top: 917, transform: "translateY(-50%)", fontFamily: "'Open Sans', sans-serif", fontSize: 65, lineHeight: 1, color: "#111", whiteSpace: "nowrap" }}><i>p</i>=3e-04</div>
      <div style={{ position: "absolute", left: 1068, top: 857, width: 129, height: 119, border: "2px solid #2f3a3a", boxSizing: "border-box", background: "#fff" }} />
      <svg style={{ position: "absolute", left: 1068, top: 857 }} width={30} height={119}>
        <line x1={3} x2={26} y1={15} y2={15} stroke={DARK} strokeWidth={1.5} />
        <line x1={3} x2={26} y1={62} y2={62} stroke={DARK} strokeWidth={1.4} strokeDasharray="1.4 4" />
        <line x1={3} x2={26} y1={109} y2={109} stroke={DARK} strokeWidth={1.4} strokeDasharray="6 3 1.5 3" />
      </svg>
      {riskNames.map((n, i) => <Txt key={n} x={1146} y={[869, 916, 964][i]} s={n} size={22} color="#333" />)}
      <Letter x={650} y={841} s="H" />
    </div>
  );
}
